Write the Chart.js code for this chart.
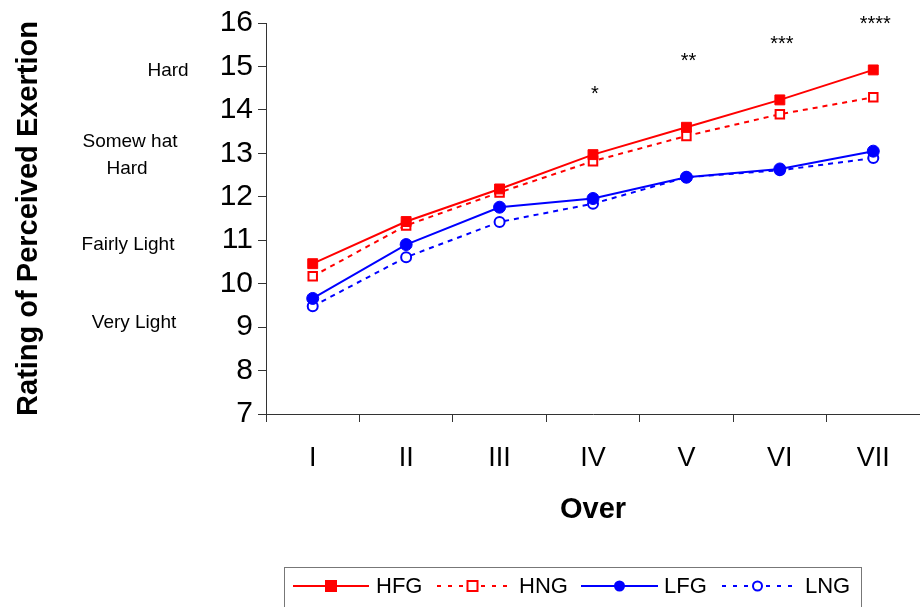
<!DOCTYPE html>
<html lang="en">
<head>
<meta charset="utf-8">
<script src="https://cdn.jsdelivr.net/npm/chart.js@4"></script>
<style>
  html, body { margin: 0; padding: 0; background: #fff; }
  #wrap { width: 920px; height: 607px; position: relative; }
</style>
</head>
<body>
<div id="wrap"><canvas id="rpeChart" width="920" height="607"></canvas></div>
<script>
// categories and series
const overs = ['I', 'II', 'III', 'IV', 'V', 'VI', 'VII'];
const hfg = [10.46, 11.43, 12.18, 12.97, 13.60, 14.23, 14.92];
const hng = [10.17, 11.34, 12.10, 12.82, 13.40, 13.90, 14.29];
const lfg = [9.66, 10.90, 11.76, 11.96, 12.45, 12.64, 13.05];
const lng = [9.48, 10.61, 11.42, 11.84, 12.45, 12.61, 12.89];

// significance marks above each over (value = height in rating units)
const sigMarks = ['', '', '', '*', '**', '***', '****'];
const sigLevel = [null, null, null, 14.45, 15.2, 15.6, 16.05];

// verbal anchors of the RPE scale
const anchorText = [['Hard'], ['Somew hat', 'Hard'], ['Fairly Light'], ['Very Light']];
const anchorLevel = [14.9, 12.95, 10.9, 9.1];

const yMin = 7, yMax = 16;

const FONT = '"Liberation Sans", Arial, sans-serif';

const extras = {
  id: 'extras',
  afterDraw(chart) {
    const ctx = chart.ctx;
    const x = chart.scales.x, y = chart.scales.y;
    const area = chart.chartArea;
    ctx.save();

    // axis titles
    ctx.fillStyle = '#000';
    ctx.font = 'bold 29px ' + FONT;
    ctx.textAlign = 'center';
    ctx.textBaseline = 'middle';
    ctx.fillText('Over', (area.left + area.right) / 2, 510);
    ctx.save();
    ctx.translate(29, (area.top + area.bottom) / 2);
    ctx.rotate(-Math.PI / 2);
    ctx.fillText('Rating of Perceived Exertion', 0, 0);
    ctx.restore();

    // verbal anchors
    ctx.font = '19px ' + FONT;
    const anchorX = [168, 130, 128, 134];
    anchorText.forEach((lines, i) => {
      const cy = y.getPixelForValue(anchorLevel[i]);
      lines.forEach((t, j) => {
        const off = (j - (lines.length - 1) / 2) * 27;
        ctx.fillText(t, anchorX[i] - (j > 0 ? 3 : 0), cy + off);
      });
    });

    // asterisks
    ctx.font = '20px ' + FONT;
    sigMarks.forEach((m, i) => {
      if (!m) return;
      ctx.fillText(m, x.getPixelForValue(i) + 2, y.getPixelForValue(sigLevel[i]) + 4);
    });

    // legend
    const lx = 284, ly = 567, lw = 577, lh = 50;
    ctx.strokeStyle = '#777';
    ctx.lineWidth = 1;
    ctx.strokeRect(lx + 0.5, ly + 0.5, lw, lh);
    const items = [
      { x0: 293, x1: 369, text: 'HFG', tx: 376 },
      { x0: 437, x1: 508, text: 'HNG', tx: 519 },
      { x0: 581, x1: 658, text: 'LFG', tx: 664 },
      { x0: 722, x1: 793, text: 'LNG', tx: 805 }
    ];
    const cy = 586;
    items.forEach((it, i) => {
      const ds = chart.data.datasets[i];
      ctx.save();
      ctx.strokeStyle = ds.borderColor;
      ctx.lineWidth = 2;
      ctx.setLineDash(ds.borderDash ? [4, 7] : []);
      ctx.beginPath();
      ctx.moveTo(it.x0, cy);
      ctx.lineTo(it.x1, cy);
      ctx.stroke();
      ctx.setLineDash([]);
      const mx = (it.x0 + it.x1) / 2;
      ctx.fillStyle = ds.pointBackgroundColor;
      ctx.strokeStyle = ds.pointBorderColor;
      ctx.lineWidth = 2;
      const r = ds.pointStyle === 'rect' ? 5 : 4.5;
      ctx.beginPath();
      if (ds.pointStyle === 'rect') {
        ctx.rect(mx - r, cy - r, 2 * r, 2 * r);
      } else {
        ctx.arc(mx, cy, r, 0, Math.PI * 2);
      }
      ctx.fill();
      ctx.stroke();
      ctx.restore();
      ctx.fillStyle = '#000';
      ctx.font = '22px ' + FONT;
      ctx.textAlign = 'left';
      ctx.fillText(it.text, it.tx, cy + 1);
    });

    ctx.restore();
  }
};

new Chart(document.getElementById('rpeChart'), {
  type: 'line',
  data: {
    labels: overs,
    datasets: [
      {
        label: 'HFG', data: hfg,
        borderColor: '#ff0000', borderWidth: 2,
        pointStyle: 'rect', pointRadius: 7,
        pointBackgroundColor: '#ff0000', pointBorderColor: '#ff0000', pointBorderWidth: 1
      },
      {
        label: 'HNG', data: hng,
        borderColor: '#ff0000', borderWidth: 2, borderDash: [5, 5],
        pointStyle: 'rect', pointRadius: 6,
        pointBackgroundColor: '#ffffff', pointBorderColor: '#ff0000', pointBorderWidth: 2
      },
      {
        label: 'LFG', data: lfg,
        borderColor: '#0000ff', borderWidth: 2,
        pointStyle: 'circle', pointRadius: 6,
        pointBackgroundColor: '#0000ff', pointBorderColor: '#0000ff', pointBorderWidth: 1
      },
      {
        label: 'LNG', data: lng,
        borderColor: '#0000ff', borderWidth: 2, borderDash: [5, 5],
        pointStyle: 'circle', pointRadius: 5,
        pointBackgroundColor: '#ffffff', pointBorderColor: '#0000ff', pointBorderWidth: 2
      }
    ]
  },
  options: {
    responsive: false,
    animation: false,
    layout: { autoPadding: false, padding: { top: 20, right: 0, bottom: 0, left: 0 } },
    plugins: {
      legend: { display: false },
      tooltip: { enabled: false }
    },
    scales: {
      x: {
        offset: true,
        afterFit: (s) => { s.height = 193; },
        grid: {
          offset: true, drawOnChartArea: false, drawTicks: true,
          tickLength: 8, color: '#333'
        },
        border: { display: true, color: '#333', width: 1 },
        ticks: { color: '#000', font: { family: FONT, size: 27 }, padding: 20 }
      },
      y: {
        min: yMin, max: yMax,
        afterFit: (s) => { s.width = 266; },
        grid: {
          drawOnChartArea: false, drawTicks: true,
          tickLength: 8, color: '#333'
        },
        border: { display: true, color: '#333', width: 1 },
        ticks: { stepSize: 1, color: '#000', font: { family: FONT, size: 30 }, padding: 5 }
      }
    }
  },
  plugins: [extras]
});
</script>
</body>
</html>
